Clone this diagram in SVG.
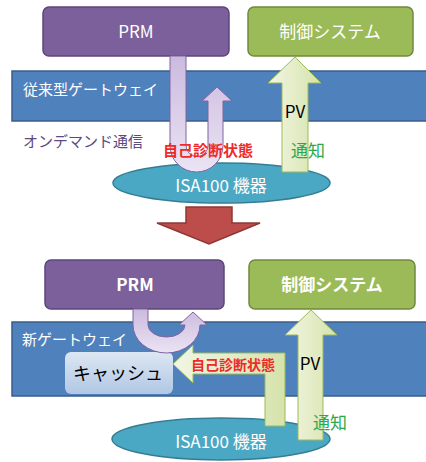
<svg xmlns="http://www.w3.org/2000/svg" width="426" height="462" viewBox="0 0 426 462">
<defs>
<linearGradient id="gLav" x1="0" y1="0" x2="1" y2="0">
<stop offset="0" stop-color="#c9b8dd"/>
<stop offset="0.5" stop-color="#e3daee"/>
<stop offset="1" stop-color="#d2c4e3"/>
</linearGradient>
<linearGradient id="gLavV" x1="0" y1="0" x2="0" y2="1">
<stop offset="0" stop-color="#cbbade"/>
<stop offset="1" stop-color="#ebe4f3"/>
</linearGradient>
<linearGradient id="gGrn" x1="0" y1="0" x2="1" y2="0">
<stop offset="0" stop-color="#f2f6e4"/>
<stop offset="1" stop-color="#d6e3ab"/>
</linearGradient>
<linearGradient id="gCache" x1="0" y1="0" x2="0" y2="1">
<stop offset="0" stop-color="#dde7f3"/>
<stop offset="1" stop-color="#b1c7e4"/>
</linearGradient>
</defs>
<style>
text{font-family:"Noto Sans CJK JP","Noto Sans",sans-serif;}
.band{fill:#4f81bd;stroke:#385d8a;stroke-width:1.5;}
.prm{fill:#7b609b;stroke:#5c4679;stroke-width:1.5;}
.ctl{fill:#9bbb59;stroke:#71893f;stroke-width:1.5;}
.dev{fill:#4ba8c4;stroke:#357d91;stroke-width:1.5;}
.lav{fill:url(#gLavV);stroke:#8064a2;stroke-width:1;}
.grn{fill:url(#gGrn);stroke:#9bbb59;stroke-width:1;}
.big{fill:#bd4d4a;stroke:#8c3836;stroke-width:1.5;}
.wt{fill:#ffffff;}
.red{fill:#ee2a2a;font-weight:bold;}
.gr{fill:#2ba84a;}
.blk{fill:#000000;}
</style>
<g id="band-old">
<rect class="band" x="12" y="71" width="420" height="50"/>
<text class="wt" x="23" y="95" font-size="15">従来型ゲートウェイ</text>
</g>
<g id="band-new">
<rect class="band" x="12" y="322" width="420" height="74"/>
<text class="wt" x="22" y="345" font-size="15">新ゲートウェイ</text>
</g>
<text x="23" y="147" font-size="15" fill="#5d4a7e">オンデマンド通信</text>
<g id="isa-old">
<ellipse class="dev" cx="221.5" cy="183" rx="108.5" ry="20"/>
</g>
<g id="isa-new">
<ellipse class="dev" cx="221" cy="439" rx="109" ry="21"/>
</g>
<g id="prm-old">
<rect class="prm" x="43" y="7" width="186" height="49" rx="6"/>
<text class="wt" x="136" y="38" font-size="17" text-anchor="middle">PRM</text>
</g>
<g id="ctl-old">
<rect class="ctl" x="248" y="7" width="165" height="49" rx="6"/>
<text class="wt" x="330" y="38" font-size="17" text-anchor="middle">制御システム</text>
</g>
<g id="prm-new">
<rect class="prm" x="45" y="260" width="179" height="49" rx="6"/>
<text class="wt" x="135" y="291" font-size="17" font-weight="bold" text-anchor="middle">PRM</text>
</g>
<g id="ctl-new">
<rect class="ctl" x="249" y="260" width="166" height="49" rx="6"/>
<text class="wt" x="332" y="291" font-size="17" font-weight="bold" text-anchor="middle">制御システム</text>
</g>
<g id="cache">
<rect x="65" y="352" width="108" height="42" rx="6" fill="url(#gCache)"/>
<text class="blk" x="118" y="380" font-size="18" text-anchor="middle">キャッシュ</text>
</g>
<g id="connectors">
<path class="lav" d="M170,56 L170,145.5 A26.5,26.5 0 0 0 223,145.5 L223,101 L232,101 L217,87 L202,101 L208,101 L208,145.5 A11,11 0 0 1 186,145.5 L186,56 Z"/>
<path class="grn" d="M282,172 L282,83 L268,83 L295,57 L321,83 L308,83 L308,172 Z"/>
<path class="big" d="M186,207 L232,207 L232,223 L260,223 L209,244 L157,223 L186,223 Z"/>
<path class="lav" d="M133,309 L133,325 A33.5,28 0 0 0 200,325 L207,325 L193,312 L179,325 L185,325 A18.5,12 0 0 1 148,325 L148,309 Z"/>
<path class="grn" d="M285,426 L285,353 L193,353 L193,345 L173,364 L193,383 L193,374 L265,374 L265,426 Z"/>
<path class="grn" d="M298,440 L298,335 L285,335 L311,310 L337,335 L323,335 L323,440 Z"/>
</g>
<text class="wt" x="221" y="192" font-size="17" text-anchor="middle">ISA100 機器</text>
<text class="wt" x="221" y="448" font-size="17" text-anchor="middle">ISA100 機器</text>
<text class="red" x="163" y="156" font-size="15">自己診断状態</text>
<text class="red" x="191" y="370" font-size="14">自己診断状態</text>
<text class="blk" x="295" y="118" font-size="17" text-anchor="middle">PV</text>
<text class="blk" x="310" y="370" font-size="17" text-anchor="middle">PV</text>
<text class="gr" x="291" y="157" font-size="17">通知</text>
<text class="gr" x="313" y="429" font-size="17">通知</text>
</svg>
